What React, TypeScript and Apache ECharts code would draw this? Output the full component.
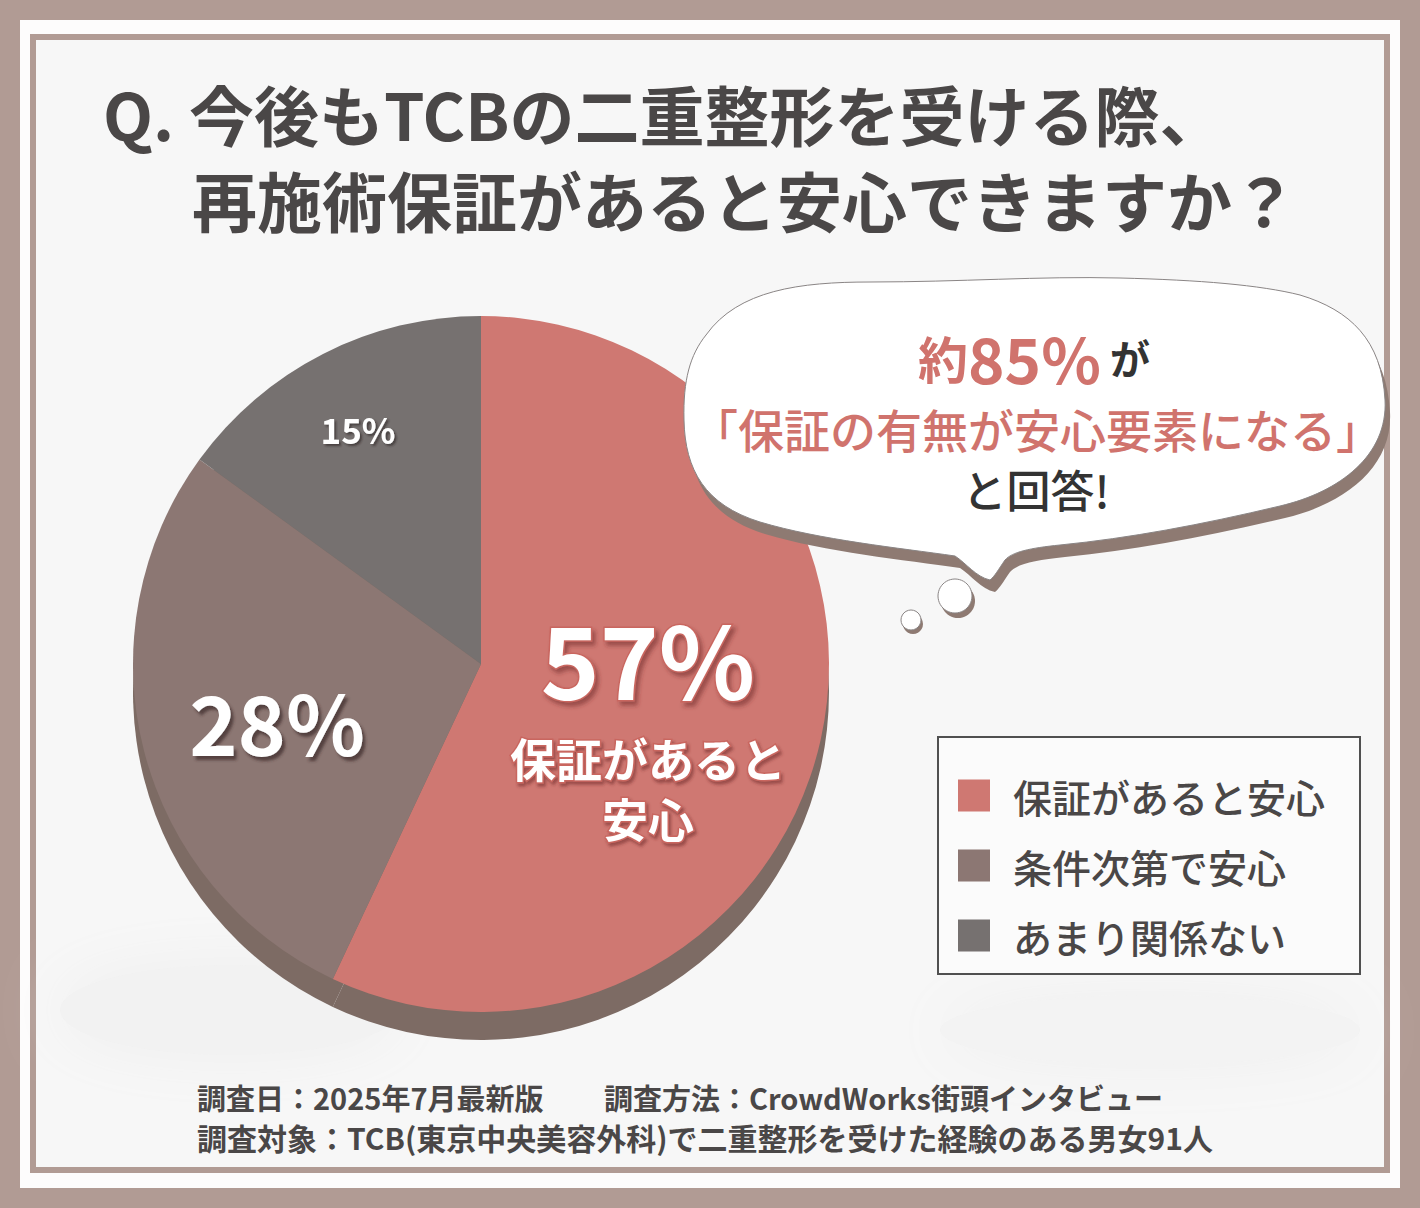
import { useEffect, useRef } from 'react';
import * as echarts from 'echarts';

// ---- data ----
const categories = ['保証があると安心', '条件次第で安心', 'あまり関係ない'];
const values = [57, 28, 15];
const sliceColors = ['#cf7872', '#8c7773', '#767170'];
const titleLines = ['Q. 今後もTCBの二重整形を受ける際、', '再施術保証があると安心できますか？'];
const bubbleHead = ['約', '85%', 'が'];
const bubbleMid = '「保証の有無が安心要素になる」';
const bubbleTail = 'と回答!';
const footerLeft = '調査日：2025年7月最新版';
const footerRight = '調査方法：CrowdWorks街頭インタビュー';
const footerLine2 = '調査対象：TCB(東京中央美容外科)で二重整形を受けた経験のある男女91人';

const FONT = '"Noto Sans CJK JP", "Noto Sans", sans-serif';
const TEXT_DARK = '#4a4747';
const RED_TEXT = '#d0736d';

const BUBBLE_D =
  'M 706 335 C 738 290 800 282 870 282 C 960 282 1040 276 1120 278 C 1200 280 1260 285 1300 295 ' +
  'C 1350 310 1382 340 1385 400 C 1388 455 1340 492 1280 506 C 1200 525 1130 538 1060 545 ' +
  'C 1030 548 1012 552 1005 560 C 998 570 995 576 990 580 C 976 577 966 563 955 556 ' +
  'C 900 548 820 540 760 522 C 705 505 685 470 684 420 C 683 380 690 355 706 335 Z';

const LABEL_POS: [number, number][] = [
  [648, 716],
  [277, 720],
  [358, 428],
];

export default function App() {
  const ref = useRef<HTMLDivElement>(null);
  useEffect(() => {
    if (!ref.current) return;
    echarts.graphic.registerShape('bubble', echarts.graphic.extendPath(BUBBLE_D, {}) as any);
    const chart = echarts.init(ref.current, null, { renderer: 'svg' });
    const data = categories.map((name, i) => ({ name, value: values[i], itemStyle: { color: sliceColors[i] } }));
    const sub1 = categories[0].slice(0, 6);
    const sub2 = categories[0].slice(6);
    const option: any = {
      animation: false,
      backgroundColor: '#b19b94',
      legend: {
        orient: 'vertical',
        left: 958,
        top: 776,
        padding: 0,
        itemWidth: 32,
        itemHeight: 32,
        itemGap: 31,
        icon: 'rect',
        selectedMode: false,
        data: categories,
        textStyle: {
          fontFamily: FONT, fontSize: 39, fontWeight: 500, color: TEXT_DARK,
          lineHeight: 32, padding: [0, 0, 0, 18],
        },
      },
      series: [
        {
          type: 'pie',
          name: 'main',
          center: [481, 664],
          radius: 348,
          startAngle: 90,
          clockwise: true,
          z: 3,
          silent: true,
          data,
          labelLine: { show: false },
          label: {
            show: true,
            position: 'inside',
            formatter: (p: any) => {
              if (p.dataIndex === 0) return `{big|${p.value}%}\n{sub|${sub1}}\n{sub|${sub2}}`;
              if (p.dataIndex === 1) return `{mid|${p.value}%}`;
              return `{small|${p.value}%}`;
            },
            rich: {
              big: {
                fontFamily: FONT, fontWeight: 'bold', fontSize: 100, lineHeight: 142, color: '#fff',
                textBorderColor: '#c9665f', textBorderWidth: 3,
                textShadowColor: 'rgba(110,40,40,0.55)', textShadowOffsetX: 3, textShadowOffsetY: 4, textShadowBlur: 4,
              },
              sub: {
                fontFamily: FONT, fontWeight: 'bold', fontSize: 46, lineHeight: 60, color: '#fff',
                textBorderColor: '#c9665f', textBorderWidth: 3,
                textShadowColor: 'rgba(110,40,40,0.55)', textShadowOffsetX: 2, textShadowOffsetY: 3, textShadowBlur: 3,
              },
              mid: {
                fontFamily: FONT, fontWeight: 'bold', fontSize: 82, color: '#fff',
                textShadowColor: 'rgba(60,40,40,0.7)', textShadowOffsetX: 3, textShadowOffsetY: 4, textShadowBlur: 3,
              },
              small: {
                fontFamily: FONT, fontWeight: 'bold', fontSize: 35, color: '#fff',
                textShadowColor: 'rgba(40,30,30,0.6)', textShadowOffsetX: 2, textShadowOffsetY: 2, textShadowBlur: 2,
              },
            },
          },
          labelLayout: (p: any) => ({
            x: LABEL_POS[p.dataIndex][0],
            y: LABEL_POS[p.dataIndex][1],
            align: 'center',
            verticalAlign: 'middle',
          }),
        },
        {
          type: 'pie',
          name: 'depth',
          center: [481, 692],
          radius: 348,
          startAngle: 90,
          clockwise: true,
          z: 2,
          silent: true,
          label: { show: false },
          labelLine: { show: false },
          itemStyle: { color: '#7d6b64' },
          data: categories.map((name, i) => ({ name: name + ' ', value: values[i] })),
        },
      ],
      graphic: [
        { type: 'rect', z: -10, shape: { x: 20, y: 20, width: 1380, height: 1168 }, style: { fill: '#fdfcfc' } },
        {
          type: 'rect', z: -9,
          shape: { x: 33, y: 37, width: 1354, height: 1133 },
          style: { fill: '#f7f7f7', stroke: '#b19b94', lineWidth: 6 },
        },
        { type: 'ellipse', z: -8, shape: { cx: 230, cy: 1010, rx: 170, ry: 45 }, style: { fill: '#f2f2f2', shadowBlur: 60, shadowColor: '#eeeeee' } },
        { type: 'ellipse', z: -8, shape: { cx: 1150, cy: 1030, rx: 210, ry: 35 }, style: { fill: '#f3f3f3', shadowBlur: 60, shadowColor: '#efefef' } },
        // title
        {
          type: 'text', z: 20,
          style: { text: titleLines[0], x: 103, y: 113, verticalAlign: 'middle', font: `bold 65px ${FONT}`, fill: TEXT_DARK },
        },
        {
          type: 'text', z: 20,
          style: { text: titleLines[1], x: 192, y: 199, verticalAlign: 'middle', font: `bold 65px ${FONT}`, fill: TEXT_DARK },
        },
        // bubble
        { type: 'bubble', z: 20, x: 5, y: 12, style: { fill: '#8e7a72' } },
        { type: 'bubble', z: 21, x: 0, y: 0, style: { fill: '#ffffff', stroke: '#8a8585', lineWidth: 1 } },
        { type: 'circle', z: 20, shape: { cx: 958, cy: 601, r: 17 }, style: { fill: '#8e7a72' } },
        { type: 'circle', z: 21, shape: { cx: 955, cy: 596, r: 17 }, style: { fill: '#fff', stroke: '#8a8585', lineWidth: 1 } },
        { type: 'circle', z: 20, shape: { cx: 913, cy: 624, r: 10 }, style: { fill: '#8e7a72' } },
        { type: 'circle', z: 21, shape: { cx: 911, cy: 620, r: 10 }, style: { fill: '#fff', stroke: '#8a8585', lineWidth: 1 } },
        {
          type: 'text', z: 22,
          style: {
            text: `{a|${bubbleHead[0]}}{b|${bubbleHead[1]}}{c| ${bubbleHead[2]}}`,
            x: 1034, y: 357, align: 'center', verticalAlign: 'middle',
            rich: {
              a: { fontFamily: FONT, fontWeight: 'bold', fontSize: 50, lineHeight: 56, fill: RED_TEXT, color: RED_TEXT },
              b: { fontFamily: FONT, fontWeight: 'bold', fontSize: 62, lineHeight: 56, fill: RED_TEXT, color: RED_TEXT },
              c: { fontFamily: FONT, fontWeight: 'bold', fontSize: 40, lineHeight: 56, fill: '#333', color: '#333' },
            },
          },
        },
        {
          type: 'text', z: 22,
          style: { text: bubbleMid, x: 1037, y: 428, align: 'center', verticalAlign: 'middle', font: `500 46px ${FONT}`, fill: RED_TEXT },
        },
        {
          type: 'text', z: 22,
          style: { text: bubbleTail, x: 1036, y: 489, align: 'center', verticalAlign: 'middle', font: `500 44px ${FONT}`, fill: '#333' },
        },
        // legend box
        {
          type: 'rect', z: 1,
          shape: { x: 938, y: 737, width: 422, height: 237 },
          style: { fill: 'rgba(255,255,255,0.55)', stroke: '#505050', lineWidth: 2 },
        },
        // footer
        {
          type: 'text', z: 20,
          style: { text: footerLeft, x: 197, y: 1097, verticalAlign: 'middle', font: `bold 29px ${FONT}`, fill: TEXT_DARK },
        },
        {
          type: 'text', z: 20,
          style: { text: footerRight, x: 604, y: 1097, verticalAlign: 'middle', font: `bold 29px ${FONT}`, fill: TEXT_DARK },
        },
        {
          type: 'text', z: 20,
          style: { text: footerLine2, x: 197, y: 1137, verticalAlign: 'middle', font: `bold 30px ${FONT}`, fill: TEXT_DARK },
        },
      ],
    };
    chart.setOption(option);
    return () => chart.dispose();
  }, []);
  return <div ref={ref} style={{ position: 'absolute', left: 0, top: 0, width: 1420, height: 1208 }} />;
}
